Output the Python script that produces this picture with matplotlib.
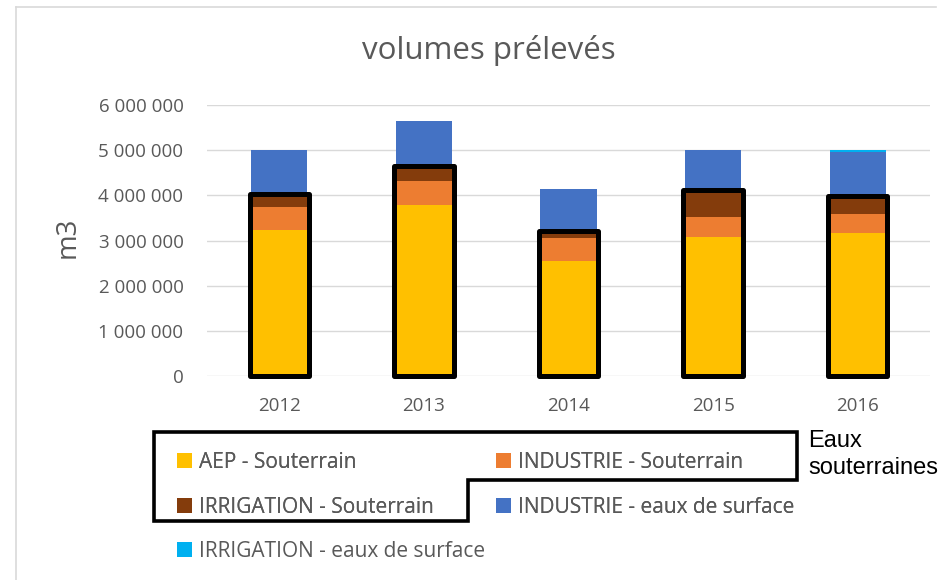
import matplotlib.pyplot as plt
from matplotlib.patches import Patch, Rectangle, Polygon
from matplotlib.lines import Line2D
from matplotlib.ticker import FuncFormatter
import numpy as np

# DATA (m3)
years = ["2012", "2013", "2014", "2015", "2016"]
aep_sout = [3230000, 3790000, 2550000, 3080000, 3160000]
ind_sout = [520000, 530000, 500000, 430000, 420000]
irr_sout = [270000, 320000, 150000, 600000, 410000]
ind_surf = [980000, 1010000, 950000, 890000, 970000]
irr_surf = [0, 0, 0, 0, 40000]

series_names = ["AEP - Souterrain", "INDUSTRIE - Souterrain", "IRRIGATION - Souterrain",
                "INDUSTRIE - eaux de surface", "IRRIGATION - eaux de surface"]
series_colors = ["#FFC000", "#ED7D31", "#843C0C", "#4472C4", "#00B0F0"]

gray = "#595959"
fnt = "Open Sans"

fig = plt.figure(figsize=(9.46, 5.8), dpi=100)
ax = fig.add_axes([207 / 946, 1 - 376 / 580, (930 - 207) / 946, (376 - 105) / 580])

x = np.arange(len(years))
w = 0.39
bottom = np.zeros(len(years))
for vals, name, col in zip([aep_sout, ind_sout, irr_sout, ind_surf, irr_surf],
                           series_names, series_colors):
    ax.bar(x, vals, w, bottom=bottom, color=col, label=name, zorder=2)
    bottom += np.array(vals)

# black frames around the groundwater part of each stack
ground = np.array(aep_sout) + np.array(ind_sout) + np.array(irr_sout)
for i, g in enumerate(ground):
    ax.add_patch(Rectangle((x[i] - w / 2 - 0.01, 0), w + 0.02, g, fill=False,
                           edgecolor="black", linewidth=3.6, joinstyle="round",
                           zorder=3, clip_on=False))

ax.set_xlim(-0.5, len(years) - 0.5)
ax.set_ylim(0, 6000000)
ax.set_yticks(np.arange(0, 6000001, 1000000))
ax.yaxis.set_major_formatter(FuncFormatter(lambda v, p: f"{int(v):,}".replace(",", " ")))
ax.set_xticks(x)
ax.set_xticklabels(years)
ax.grid(axis="y", color="#D9D9D9", linewidth=1, zorder=0)
for s in ax.spines.values():
    s.set_visible(False)
ax.tick_params(length=0, colors=gray, labelsize=13.5)
ax.tick_params(axis="y", pad=17)
ax.tick_params(axis="x", pad=15)
for lbl in ax.get_xticklabels() + ax.get_yticklabels():
    lbl.set_fontfamily(fnt)

ax.set_ylabel("m3", fontsize=20, color=gray, fontfamily=fnt)
ax.yaxis.set_label_coords(-(207 - 82) / 723, 0.51)
fig.text(489 / 946, 1 - 51 / 580, "volumes prélevés", ha="center", va="center",
         fontsize=22.5, color=gray, fontfamily=fnt)

# legend: first four entries in two columns, last one alone below
handles = [Patch(facecolor=c, edgecolor="none") for c in series_colors]
order = [0, 2, 1, 3]
leg_kw = dict(frameon=False, prop={"family": fnt, "size": 15}, handlelength=0.7,
              handleheight=0.7, handletextpad=0.35, borderpad=0, borderaxespad=0)
leg1 = fig.legend([handles[i] for i in order], [series_names[i] for i in order],
                  ncol=2, loc="upper left", bbox_to_anchor=(177 / 946, 1 - 452 / 580),
                  labelspacing=1.15, columnspacing=3.0, **leg_kw)
for t in leg1.get_texts():
    t.set_color(gray)
leg2 = fig.legend([handles[4]], [series_names[4]], loc="upper left",
                  bbox_to_anchor=(177 / 946, 1 - 541 / 580), **leg_kw)
for t in leg2.get_texts():
    t.set_color(gray)
fig.add_artist(leg1)

# outline around the groundwater legend entries
px = np.array([154, 797, 797, 468, 468, 154])
py = np.array([432, 432, 480, 480, 521, 521])
fig.add_artist(Polygon(np.column_stack([px / 946, 1 - py / 580]), closed=True, fill=False,
                       edgecolor="black", linewidth=2.6, transform=fig.transFigure))
fig.text(808 / 946, 1 - 441 / 580, "Eaux", ha="left", va="center", fontsize=17,
         fontfamily="Liberation Sans", color="black")
fig.text(808 / 946, 1 - 468 / 580, "souterraines", ha="left", va="center", fontsize=17,
         fontfamily="Liberation Sans", color="black")

# chart area border (only left and top edges visible in the crop)
fig.add_artist(Line2D([16 / 946, 16 / 946], [0, 1 - 7 / 580], color="#D9D9D9",
                      linewidth=1.2, transform=fig.transFigure))
fig.add_artist(Line2D([16 / 946, 936 / 946], [1 - 7 / 580, 1 - 7 / 580], color="#D9D9D9",
                      linewidth=1.2, transform=fig.transFigure))

fig.savefig("out.png", dpi=100)
